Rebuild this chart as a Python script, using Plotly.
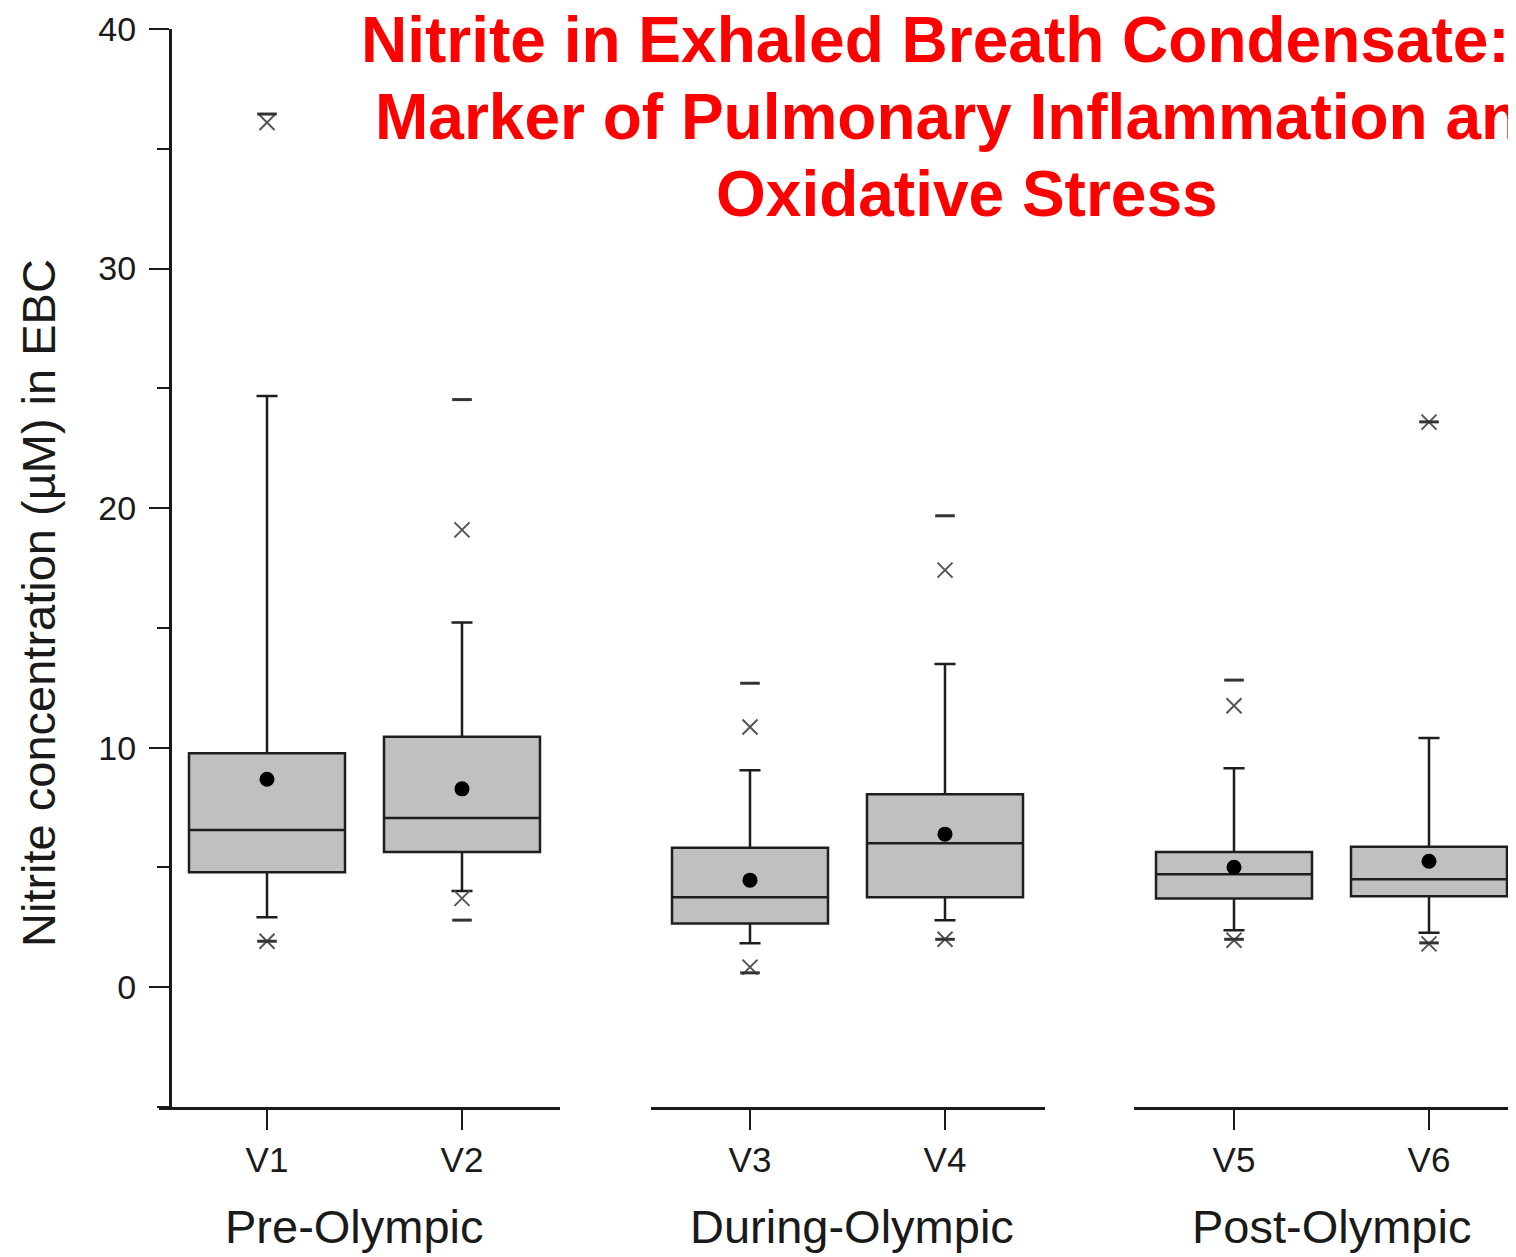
import plotly.graph_objects as go

# --- data ---
visits = ["V1", "V2", "V3", "V4", "V5", "V6"]
periods = ["Pre-Olympic", "During-Olympic", "Post-Olympic"]
q1 = [4.80, 5.64, 2.66, 3.76, 3.70, 3.80]
median = [6.56, 7.06, 3.76, 6.01, 4.72, 4.51]
q3 = [9.77, 10.46, 5.82, 8.06, 5.64, 5.86]
mean = [8.68, 8.28, 4.47, 6.39, 5.01, 5.26]
whisker_lo = [2.92, 4.02, 1.84, 2.80, 2.38, 2.27]
whisker_hi = [24.68, 15.22, 9.06, 13.49, 9.14, 10.40]
p01 = [1.92, 3.71, 0.84, 2.00, 1.96, 1.81]
p99 = [36.10, 19.09, 10.86, 17.41, 11.75, 23.59]
vmin = [1.92, 2.80, 0.60, 2.00, 2.00, 1.85]
vmax = [36.45, 24.53, 12.69, 19.68, 12.82, 23.60]

title_lines = [
    "Nitrite in Exhaled Breath Condensate:",
    "Marker of Pulmonary Inflammation and",
    "Oxidative Stress",
]

# the page body has an 8px margin, so the figure starts at screen (8, 8)
OFF = 8
SCREEN_W, SCREEN_H = 1516, 1257
W, H = SCREEN_W - OFF, SCREEN_H - OFF
# plot area in screen pixels
X0, X1 = 150, SCREEN_W
Y0, Y1 = 29, 1107
FONT = "Liberation Sans, Arial, sans-serif"
INK = "#1a1a1a"


def px_x(p):
    return (p - X0) / (X1 - X0)


def px_y(p):
    return (Y1 - p) / (Y1 - Y0)


# panel layout (screen-pixel extents of each broken x axis)
panels = [
    {"ax": "x", "lo": 159, "hi": 560, "c0": 267},
    {"ax": "x2", "lo": 651, "hi": 1045, "c0": 750},
    {"ax": "x3", "lo": 1134, "hi": SCREEN_W, "c0": 1234},
]
UNIT = 195  # pixels between two visits in a panel

fig = go.Figure()

for i, pan in enumerate(panels):
    cats = visits[2 * i: 2 * i + 2]
    sl = slice(2 * i, 2 * i + 2)
    fig.add_trace(
        go.Box(
            x=cats,
            q1=q1[sl],
            median=median[sl],
            q3=q3[sl],
            lowerfence=whisker_lo[sl],
            upperfence=whisker_hi[sl],
            width=0.8,
            whiskerwidth=0.135,
            fillcolor="#c0c0c0",
            line={"color": "#1e1e1e", "width": 2.5},
            boxpoints=False,
            hoverinfo="skip",
            showlegend=False,
            xaxis=pan["ax"],
            yaxis="y",
        )
    )
    # 1% / 99% markers
    fig.add_trace(
        go.Scatter(
            x=cats + cats,
            y=p01[sl] + p99[sl],
            mode="markers",
            marker={"symbol": "x-thin-open", "size": 15, "color": "#555",
                    "line": {"color": "#555", "width": 2}},
            showlegend=False,
            xaxis=pan["ax"],
            yaxis="y",
        )
    )
    # min / max dashes
    fig.add_trace(
        go.Scatter(
            x=cats + cats,
            y=vmin[sl] + vmax[sl],
            mode="markers",
            marker={"symbol": "line-ew-open", "size": 14, "color": "#333",
                    "line": {"color": "#333", "width": 3}},
            showlegend=False,
            xaxis=pan["ax"],
            yaxis="y",
        )
    )
    # mean
    fig.add_trace(
        go.Scatter(
            x=cats,
            y=mean[sl],
            mode="markers",
            marker={"symbol": "circle", "size": 15, "color": "black"},
            showlegend=False,
            xaxis=pan["ax"],
            yaxis="y",
        )
    )

xaxis_common = {
    "type": "category",
    "showline": True,
    "linewidth": 3,
    "linecolor": INK,
    "ticks": "outside",
    "ticklen": 20,
    "tickwidth": 2,
    "tickcolor": INK,
    "tickfont": {"family": FONT, "size": 35, "color": INK},
    "ticklabelstandoff": 0,
    "showgrid": False,
    "zeroline": False,
    "anchor": "y",
    "fixedrange": True,
}

layout_axes = {}
for i, pan in enumerate(panels):
    name = "xaxis" if i == 0 else f"xaxis{i + 1}"
    left = -(pan["c0"] - pan["lo"]) / UNIT
    right = (pan["hi"] - pan["c0"]) / UNIT
    layout_axes[name] = dict(
        xaxis_common,
        domain=[px_x(pan["lo"]), min(1.0, px_x(pan["hi"]))],
        range=[left, right],
        categoryorder="array",
        categoryarray=visits[2 * i: 2 * i + 2],
    )

annotations = []
# group labels under each panel
for name, cx in zip(periods, [354, 852, 1331]):
    annotations.append(
        dict(
            text=name, x=px_x(cx), y=px_y(1226), xref="paper", yref="paper",
            xanchor="center", yanchor="middle", showarrow=False,
            font={"family": FONT, "size": 47, "color": INK},
        )
    )

# y-axis title
annotations.append(
    dict(
        text="Nitrite concentration (\u00b5M) in EBC",
        x=px_x(38), y=px_y(603), xref="paper", yref="paper",
        xanchor="center", yanchor="middle", textangle=-90, showarrow=False,
        font={"family": FONT, "size": 47, "color": INK},
    )
)

# title, one annotation per line
for txt, lx, cy in zip(title_lines, [359, 373, 714], [40, 117, 194]):
    annotations.append(
        dict(
            text=f"<b>{txt}</b>", x=px_x(lx), y=px_y(cy),
            xref="paper", yref="paper", xanchor="left", yanchor="middle",
            showarrow=False,
            font={"family": FONT, "size": 64, "color": "#ff0000"},
        )
    )

fig.update_layout(
    width=W,
    height=H,
    margin={"l": X0 - OFF, "r": 0, "t": Y0 - OFF, "b": SCREEN_H - Y1,
            "pad": 0},
    paper_bgcolor="white",
    plot_bgcolor="white",
    showlegend=False,
    annotations=annotations,
    yaxis={
        "range": [-5, 40],
        "tickvals": [0, 10, 20, 30, 40],
        "showline": True,
        "linewidth": 3,
        "linecolor": INK,
        "ticks": "outside",
        "ticklen": 20,
        "tickwidth": 2,
        "tickcolor": INK,
        "tickfont": {"family": FONT, "size": 34, "color": INK},
        "ticklabelstandoff": 6,
        "minor": {"tickvals": [-5, 5, 15, 25, 35], "ticks": "outside",
                  "ticklen": 12, "tickwidth": 2, "tickcolor": INK},
        "showgrid": False,
        "zeroline": False,
        "anchor": "free",
        "position": px_x(170),
        "fixedrange": True,
    },
    **layout_axes,
)

fig.write_html("out.html")
